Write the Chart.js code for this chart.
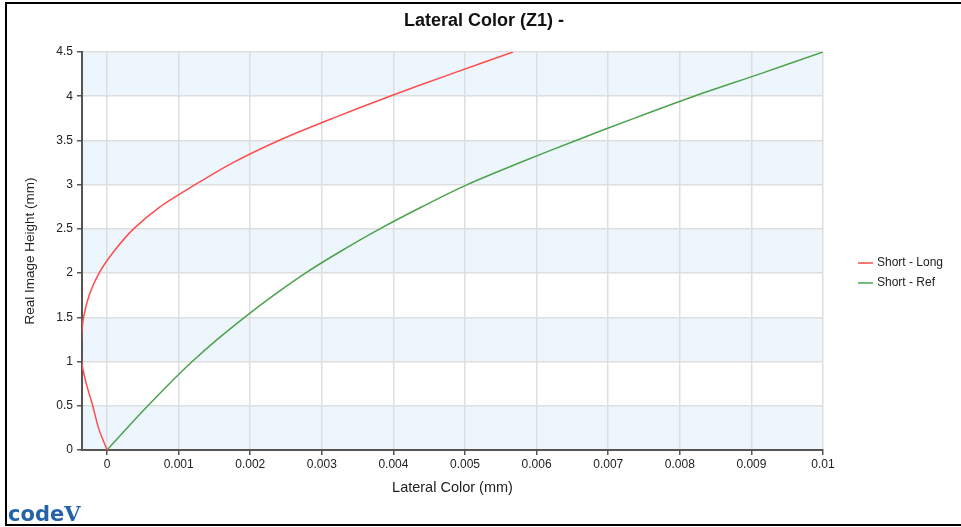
<!DOCTYPE html>
<html>
<head>
<meta charset="utf-8">
<title>Lateral Color (Z1) -</title>
<script src="https://cdn.jsdelivr.net/npm/chart.js@4.4.1/dist/chart.umd.min.js"></script>
<style>
  html, body { margin: 0; padding: 0; background: #ffffff; }
  canvas { display: block; }
</style>
</head>
<body>
<canvas id="lateralColor" width="961" height="527"></canvas>
<script>
// image heights (mm), shared by both curves
const heights = [0, 0.25, 0.5, 0.75, 1, 1.25, 1.5, 1.75, 2, 2.25, 2.5, 2.75, 3, 3.25, 3.5, 3.75, 4, 4.25, 4.5];

// lateral color (mm)
const shortLong = [0, -0.00012, -0.0002, -0.00029, -0.000355, -0.000358, -0.000328, -0.00025, -0.000112, 0.0001,
  0.00037, 0.00074, 0.00123, 0.00176, 0.0024, 0.00315, 0.00395, 0.0048, 0.00567];
const shortRef = [0, 0.00028, 0.00057, 0.00087, 0.00119, 0.00154, 0.00192, 0.00233, 0.00277, 0.00327,
  0.00381, 0.0044, 0.00503, 0.00577, 0.00655, 0.00736, 0.0082, 0.00911, 0.01];

const seriesNames = ['Short - Long', 'Short - Ref'];
const xTicks = [0, 0.001, 0.002, 0.003, 0.004, 0.005, 0.006, 0.007, 0.008, 0.009, 0.01];
const yTicks = [0, 0.5, 1, 1.5, 2, 2.5, 3, 3.5, 4, 4.5];
const chartTitle = 'Lateral Color (Z1) -';

const FONT = '"Liberation Sans", Arial, sans-serif';

const toPoints = (xs) => xs.map((x, i) => ({ x: x, y: heights[i] }));
const fmt = (v) => String(Number(v.toFixed(5)));

// alternating light blue bands behind the grid
const bandsPlugin = {
  id: 'bands',
  beforeDraw(chart) {
    const { ctx, chartArea, scales } = chart;
    ctx.save();
    ctx.fillStyle = '#eef6fd';
    for (let i = 0; i < yTicks.length - 1; i += 2) {
      const top = scales.y.getPixelForValue(yTicks[i + 1]);
      const bottom = scales.y.getPixelForValue(yTicks[i]);
      ctx.fillRect(chartArea.left, top, chartArea.right - chartArea.left, bottom - top);
    }
    ctx.restore();
  }
};

// title, legend on the right, frame and logo
const decorPlugin = {
  id: 'decor',
  afterDraw(chart) {
    const { ctx, chartArea } = chart;
    ctx.save();

    // title over the whole picture
    ctx.fillStyle = '#111111';
    ctx.font = 'bold 18px ' + FONT;
    ctx.textAlign = 'center';
    ctx.textBaseline = 'middle';
    ctx.fillText(chartTitle, 484, 21);

    // legend
    const midY = (chartArea.top + chartArea.bottom) / 2;
    chart.data.datasets.forEach((ds, i) => {
      const y = midY + 12 + i * 20;
      ctx.strokeStyle = ds.borderColor;
      ctx.lineWidth = 1.5;
      ctx.beginPath();
      ctx.moveTo(858, y);
      ctx.lineTo(873, y);
      ctx.stroke();
      ctx.fillStyle = '#222222';
      ctx.font = '12px ' + FONT;
      ctx.textBaseline = 'middle';
      ctx.textAlign = 'left';
      ctx.fillText(ds.label, 877, y);
    });

    // logo
    ctx.fillStyle = '#2563a9';
    ctx.textBaseline = 'alphabetic';
    ctx.textAlign = 'left';
    ctx.font = 'bold 21px "DejaVu Sans", sans-serif';
    ctx.fillText('code', 8, 521);
    const w = ctx.measureText('code').width;
    ctx.font = 'bold 21px "DejaVu Serif", serif';
    ctx.fillText('V', 8 + w, 521);

    // frame
    ctx.strokeStyle = '#000000';
    ctx.lineWidth = 2;
    ctx.strokeRect(6, 3, 970, 522);
    ctx.restore();
  }
};

const ctx = document.getElementById('lateralColor').getContext('2d');

new Chart(ctx, {
  type: 'scatter',
  data: {
    datasets: [
      {
        label: seriesNames[0],
        data: toPoints(shortLong),
        borderColor: '#ff4d4d',
        backgroundColor: '#ff4d4d',
        showLine: true,
        borderWidth: 1.5,
        pointRadius: 0,
        tension: 0.3
      },
      {
        label: seriesNames[1],
        data: toPoints(shortRef),
        borderColor: '#4ca24c',
        backgroundColor: '#4ca24c',
        showLine: true,
        borderWidth: 1.5,
        pointRadius: 0,
        tension: 0.3
      }
    ]
  },
  options: {
    responsive: false,
    animation: false,
    layout: { padding: { top: 52, left: 0, right: 138, bottom: 0 } },
    scales: {
      x: {
        type: 'linear',
        min: -0.00035,
        max: 0.01,
        afterBuildTicks: (scale) => { scale.ticks = xTicks.map(v => ({ value: v })); },
        afterFit: (scale) => { scale.height = 77; },
        grid: { color: '#dedede', lineWidth: 1.5, tickLength: 5, tickColor: '#555555' },
        border: { display: true, color: '#555555', width: 2 },
        ticks: {
          includeBounds: false,
          padding: 2,
          color: '#222222',
          font: { size: 12, family: FONT },
          maxRotation: 0,
          callback: (v) => fmt(v)
        },
        title: {
          display: true,
          text: 'Lateral Color (mm)',
          color: '#222222',
          font: { size: 14.5, family: FONT },
          padding: { top: 0, bottom: 30 }
        }
      },
      y: {
        type: 'linear',
        min: 0,
        max: 4.5,
        afterBuildTicks: (scale) => { scale.ticks = yTicks.map(v => ({ value: v })); },
        afterFit: (scale) => { scale.width = 82; },
        grid: { color: '#dedede', lineWidth: 1.5, tickLength: 5, tickColor: '#555555' },
        border: { display: true, color: '#555555', width: 2 },
        ticks: {
          padding: 4,
          color: '#222222',
          font: { size: 12, family: FONT },
          callback: (v) => fmt(v)
        },
        title: {
          display: true,
          text: 'Real Image Height (mm)',
          color: '#222222',
          font: { size: 13.5, family: FONT },
          padding: { top: 22, bottom: 0 }
        }
      }
    },
    plugins: {
      legend: { display: false },
      tooltip: { enabled: false },
      title: { display: false }
    }
  },
  plugins: [bandsPlugin, decorPlugin]
});
</script>
</body>
</html>
